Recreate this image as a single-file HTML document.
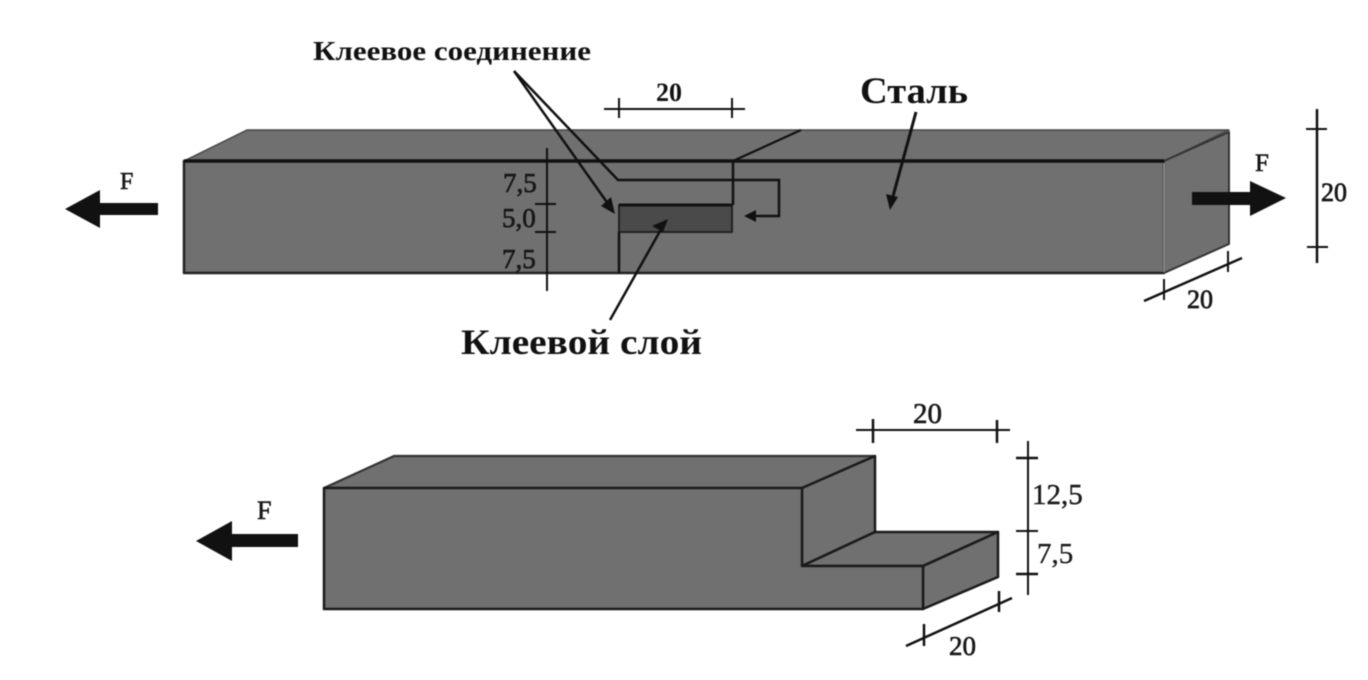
<!DOCTYPE html>
<html><head><meta charset="utf-8"><style>
html,body{margin:0;padding:0;background:#fff;width:1368px;height:680px;overflow:hidden}
svg{display:block;filter:blur(.6px)}
text{font-family:"Liberation Serif",serif;fill:#1a1a1a}
.b{font-weight:bold;fill:#111}
</style></head><body>
<svg width="1368" height="680" viewBox="0 0 1368 680" xmlns="http://www.w3.org/2000/svg">
<!-- top bar -->
<g stroke-linejoin="round">
<polygon points="184,161 247,130 1229,130 1164,161" fill="#707070" stroke="#444" stroke-width="1.5"/>
<polygon points="184,161 1164,161 1164,273 184,273" fill="#707070" stroke="#222" stroke-width="2.5"/>
<polygon points="1164,161 1229,132 1229,244 1164,273" fill="#707070" stroke="#333" stroke-width="2"/>
<line x1="184" y1="161" x2="1164" y2="161" stroke="#111" stroke-width="3.5"/>
<line x1="1164" y1="163" x2="1164" y2="272" stroke="#999" stroke-width="1.5"/>
<line x1="733" y1="161" x2="801" y2="130" stroke="#111" stroke-width="2.2"/>
<line x1="733" y1="161" x2="733" y2="205" stroke="#111" stroke-width="2.5"/>
<rect x="619" y="205" width="113" height="27" fill="#4a4a4a" stroke="#222" stroke-width="2"/>
<line x1="619" y1="205" x2="732" y2="205" stroke="#111" stroke-width="3"/>
<line x1="619" y1="232" x2="619" y2="273" stroke="#111" stroke-width="2.5"/>
</g>
<!-- dim left -->
<g stroke="#111" stroke-width="2" fill="none">
<line x1="547" y1="148" x2="547" y2="291"/>
<line x1="535" y1="204" x2="556" y2="204"/>
<line x1="535" y1="232" x2="556" y2="232"/>
<line x1="604" y1="109" x2="745" y2="109"/>
<line x1="619" y1="98" x2="619" y2="118"/>
<line x1="732" y1="98" x2="732" y2="118"/>
<line x1="1317" y1="109" x2="1317" y2="263" stroke-width="2.5"/>
<line x1="1306" y1="129" x2="1327" y2="129"/>
<line x1="1307" y1="247" x2="1328" y2="247"/>
<line x1="1144" y1="301" x2="1242" y2="258" stroke-width="2.5"/>
<line x1="1164" y1="279" x2="1164" y2="300"/>
<line x1="1228" y1="251" x2="1228" y2="272"/>
<line x1="856" y1="430" x2="1010" y2="430"/>
<line x1="873" y1="419" x2="873" y2="443" stroke-width="2.5"/>
<line x1="997" y1="420" x2="997" y2="443" stroke-width="2.5"/>
<line x1="1028" y1="441" x2="1028" y2="595"/>
<line x1="1016" y1="458" x2="1038" y2="458" stroke-width="2.5"/>
<line x1="1016" y1="531" x2="1038" y2="531"/>
<line x1="1016" y1="574" x2="1038" y2="574" stroke-width="2.5"/>
<line x1="906" y1="646" x2="1012" y2="598" stroke-width="2.5"/>
<line x1="924" y1="624" x2="924" y2="646" stroke-width="2.5"/>
<line x1="999" y1="591" x2="999" y2="612" stroke-width="2.5"/>
</g>
<!-- leaders -->
<g stroke="#111" fill="none">
<polyline points="514,71 618,180 779,180 779,216 752,216" stroke-width="2.5"/>
<line x1="514" y1="71" x2="611" y2="208" stroke-width="2.5"/>
<line x1="610" y1="320" x2="664" y2="224" stroke-width="2.5"/>
<line x1="916" y1="112" x2="892" y2="200" stroke-width="3"/>
</g>
<g fill="#111">
<polygon points="615,214 601,206 611,197"/>
<polygon points="744,216 756,210 756,222"/>
<polygon points="668,219 663,232 652,226"/>
<polygon points="890,210 886,194 898,197"/>
<path d="M158,203V215H100V228L65,209L100,190V203Z"/>
<path d="M1192,192H1250V181L1286,198L1250,216V205H1192Z"/>
<path d="M298,534V547H232V561L196,541L232,521V534Z"/>
</g>
<!-- bottom block -->
<g stroke-linejoin="round">
<polygon points="324,488 394,456 875,456 802,488" fill="#707070" stroke="#333" stroke-width="2.2"/>
<polygon points="802,488 875,456 875,532 802,566" fill="#707070" stroke="#1a1a1a" stroke-width="2.5"/>
<polygon points="802,566 875,532 998,532 923,566" fill="#707070" stroke="#1a1a1a" stroke-width="2.5"/>
<polygon points="923,566 998,532 998,577 923,609" fill="#707070" stroke="#1a1a1a" stroke-width="2.5"/>
<polygon points="324,488 802,488 802,566 923,566 923,609 324,609" fill="#707070" stroke="#1a1a1a" stroke-width="2.5"/>
</g>
<!-- text -->
<text class="b" x="313" y="60" font-size="27" textLength="278" lengthAdjust="spacingAndGlyphs">Клеевое соединение</text>
<text class="b" x="656" y="101" font-size="26">20</text>
<text class="b" x="860" y="103" font-size="37" textLength="108" lengthAdjust="spacingAndGlyphs">Сталь</text>
<text class="b" x="461" y="354" font-size="36" textLength="241" lengthAdjust="spacingAndGlyphs">Клеевой слой</text>
<text x="503" y="192" font-size="27" stroke="#111" stroke-width=".6">7,5</text>
<text x="502" y="227" font-size="27" stroke="#111" stroke-width=".6">5,0</text>
<text x="502" y="268" font-size="27" stroke="#111" stroke-width=".6">7,5</text>
<text x="120" y="189" font-size="24" stroke="#111" stroke-width=".6">F</text>
<text x="1255" y="171" font-size="25" stroke="#111" stroke-width=".6">F</text>
<text x="257" y="519" font-size="26" stroke="#111" stroke-width=".6">F</text>
<text x="1321" y="201" font-size="26" stroke="#111" stroke-width=".7">20</text>
<text x="1187" y="308" font-size="26" stroke="#111" stroke-width=".7">20</text>
<text x="913" y="423" font-size="29" stroke="#111" stroke-width=".6">20</text>
<text x="1032" y="504" font-size="29" stroke="#111" stroke-width=".4">12,5</text>
<text x="1037" y="563" font-size="29" stroke="#111" stroke-width=".3">7,5</text>
<text x="949" y="655" font-size="27" stroke="#111" stroke-width=".6">20</text>
</svg>
</body></html>
